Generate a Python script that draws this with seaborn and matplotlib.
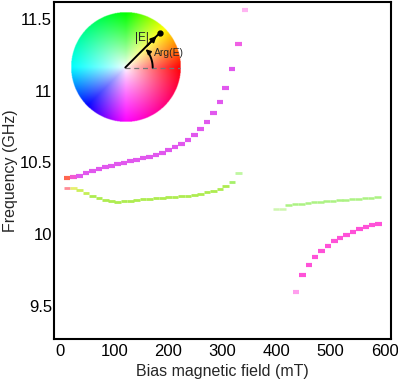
import numpy as np
import pandas as pd
import matplotlib
matplotlib.use('Agg')
import matplotlib.pyplot as plt
import matplotlib.colors as mcolors
import seaborn as sns

# upper (magenta) branch, low field side
up_field = [12, 24, 35, 47, 59, 71, 83, 94, 106, 118, 130, 141, 153, 165, 177,
            189, 200, 212, 224, 236, 248, 259, 271, 283, 295, 306, 318, 330, 342]
up_freq = [10.392, 10.397, 10.408, 10.424, 10.441, 10.457, 10.471, 10.478, 10.487,
           10.494, 10.506, 10.517, 10.528, 10.540, 10.554, 10.568, 10.587, 10.608,
           10.631, 10.659, 10.693, 10.735, 10.783, 10.844, 10.922, 11.019, 11.151,
           11.327, 11.561]
up_col = ['#ff6650', '#f25ad2'] + ['#e158ee'] * 25 + ['#f060e4', '#ffb4f2']

# lower (green) branch, low field side
lo_field = [12, 24, 35, 47, 59, 71, 83, 94, 106, 118, 130, 141, 153, 165, 177,
            189, 200, 212, 224, 236, 248, 259, 271, 283, 295, 306, 318, 330]
lo_freq = [10.323, 10.318, 10.304, 10.288, 10.269, 10.251, 10.237, 10.228, 10.226,
           10.230, 10.233, 10.237, 10.242, 10.244, 10.249, 10.253, 10.258, 10.260,
           10.265, 10.269, 10.276, 10.283, 10.290, 10.299, 10.311, 10.332, 10.362,
           10.424]
lo_col = ['#ff8c96', '#e6ef6e', '#cdf05a', '#c4ef55'] + ['#aeec50'] * 22 + ['#a6f06a', '#bff7a0']

# high field side, upper (green) branch
hg_field = [399, 411, 422, 434, 446, 458, 469, 481, 493, 505, 517, 528, 540, 552,
            564, 575, 587]
hg_freq = [10.174, 10.174, 10.203, 10.208, 10.213, 10.218, 10.222, 10.226, 10.230,
           10.234, 10.238, 10.241, 10.245, 10.248, 10.251, 10.254, 10.257]
hg_col = ['#cff6b0', '#cff6b0'] + ['#acf283'] * 15

# high field side, lower (magenta) branch
hm_field = [436, 448, 460, 471, 483, 495, 507, 518, 530, 542, 554, 566, 577, 589]
hm_freq = [9.598, 9.712, 9.785, 9.841, 9.885, 9.920, 9.950, 9.976, 9.997, 10.017,
           10.033, 10.047, 10.061, 10.073]
hm_col = ['#ff9fee'] + ['#ff52d8'] * 13

sns.set_style('white')
plt.rcParams['font.family'] = ['Liberation Sans', 'DejaVu Sans']

fig = plt.figure(figsize=(3.98, 3.8), dpi=100)
ax = fig.add_axes([0.1357, 0.108, 0.8467, 0.888])

branches = [(up_field, up_freq, up_col, 3.0),
            (lo_field, lo_freq, lo_col, 2.0),
            (hg_field, hg_freq, hg_col, 1.8),
            (hm_field, hm_freq, hm_col, 3.0)]
for fx, fy, fc, lw in branches:
    d = pd.DataFrame({'field': fx, 'freq': fy, 'c': fc})
    sns.scatterplot(data=d, x='field', y='freq', hue='c',
                    palette={c: c for c in set(fc)}, marker='_', s=22,
                    linewidth=lw, legend=False, ax=ax)

ax.set_xlim(-12, 612)
ax.set_ylim(9.27, 11.62)
ax.set_xticks([0, 100, 200, 300, 400, 500, 600])
ax.set_yticks([9.5, 10, 10.5, 11, 11.5])
ax.set_yticklabels(['9.5', '10', '10.5', '11', '11.5'])
ax.set_xlabel('Bias magnetic field (mT)', fontsize=11.5, labelpad=4)
ax.set_ylabel('Frequency (GHz)', fontsize=11.5, labelpad=1)
ax.tick_params(axis='both', direction='in', length=4.5, width=1.3,
               labelsize=12, colors='black')
ax.tick_params(axis='x', pad=3.5)
ax.tick_params(axis='y', pad=1.5)
for sp in ax.spines.values():
    sp.set_linewidth(1.5)
    sp.set_color('black')

# colour wheel key
cax = fig.add_axes([0.1759, 0.6768, 0.2779, 0.2911])
n = 300
g = np.linspace(-1, 1, n)
X, Y = np.meshgrid(g, g)
R = np.hypot(X, Y)
ang = np.degrees(np.arctan2(Y, X)) % 360
hue = np.interp(ang, [0, 45, 90, 180, 225, 270, 360], [0, 60, 120, 180, 240, 300, 360]) / 360
hsv = np.dstack([hue % 1, np.clip(R, 0, 1) ** 0.8, np.ones_like(R)])
rgba = np.dstack([mcolors.hsv_to_rgb(hsv), (R <= 1).astype(float)])
cax.imshow(rgba, extent=(-1, 1, -1, 1), origin='lower', interpolation='bilinear')
cax.set_xlim(-1.01, 1.01)
cax.set_ylim(-1.01, 1.01)
cax.axis('off')
cax.plot([0, 1], [0, 0], ls=(0, (4, 3)), color='#777777', lw=0.9)
cax.plot([0, 0.634], [0, 0.637], color='black', lw=1.4)
cax.plot([0.634], [0.637], 'o', color='black', ms=3.5)
cax.annotate('', xy=(0.57, 0.573), xytext=(0.4, 0.4),
             arrowprops=dict(arrowstyle='-|>', color='black', lw=1.4,
                             mutation_scale=8, shrinkA=0, shrinkB=0))
t = np.radians(np.linspace(0, 30, 30))
cax.plot(0.5 * np.cos(t), 0.5 * np.sin(t), color='black', lw=1.4)
cax.annotate('', xy=(0.5 * np.cos(np.radians(42)), 0.5 * np.sin(np.radians(42))),
             xytext=(0.5 * np.cos(np.radians(29)), 0.5 * np.sin(np.radians(29))),
             arrowprops=dict(arrowstyle='-|>', color='black', lw=1.2,
                             mutation_scale=7, shrinkA=0, shrinkB=0,
                             connectionstyle='arc3,rad=0.1'))
cax.text(0.30, 0.53, '|E|', fontsize=8.5, ha='center', va='center')
cax.text(0.52, 0.265, 'Arg(E)', fontsize=7.5, ha='left', va='center')

fig.savefig('out.png', dpi=100)
